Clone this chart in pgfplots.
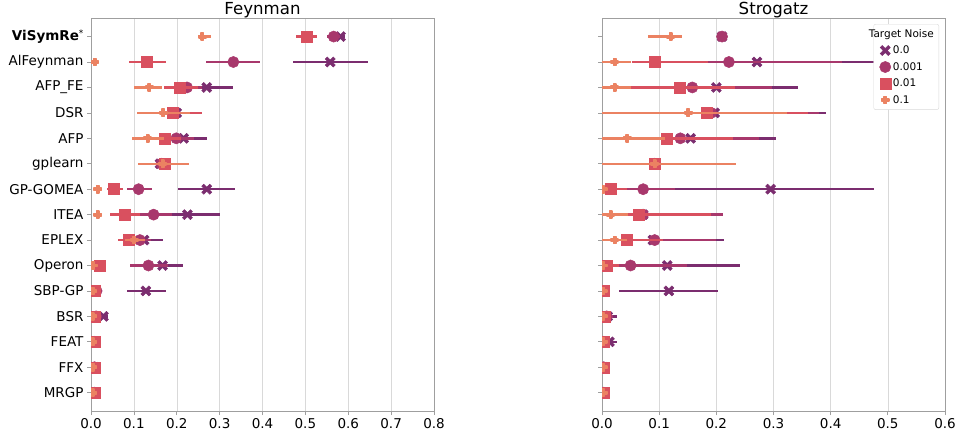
\documentclass[border=0pt]{standalone}
\usepackage{fontspec}
\setmainfont{DejaVu Sans}
\usepackage{pgfplots}
\usepackage{pgfplotstable}
\pgfplotsset{compat=1.18}

\definecolor{cA}{HTML}{7B2D6F}
\definecolor{cB}{HTML}{A8386C}
\definecolor{cC}{HTML}{D9505F}
\definecolor{cD}{HTML}{EB8262}

\pgfdeclareplotmark{fatX}{%
 \pgfpathmoveto{\pgfqpoint{0pt}{0.4\pgfplotmarksize}}%
 \pgfpathlineto{\pgfqpoint{0.6\pgfplotmarksize}{1\pgfplotmarksize}}%
 \pgfpathlineto{\pgfqpoint{1\pgfplotmarksize}{0.6\pgfplotmarksize}}%
 \pgfpathlineto{\pgfqpoint{0.4\pgfplotmarksize}{0pt}}%
 \pgfpathlineto{\pgfqpoint{1\pgfplotmarksize}{-0.6\pgfplotmarksize}}%
 \pgfpathlineto{\pgfqpoint{0.6\pgfplotmarksize}{-1\pgfplotmarksize}}%
 \pgfpathlineto{\pgfqpoint{0pt}{-0.4\pgfplotmarksize}}%
 \pgfpathlineto{\pgfqpoint{-0.6\pgfplotmarksize}{-1\pgfplotmarksize}}%
 \pgfpathlineto{\pgfqpoint{-1\pgfplotmarksize}{-0.6\pgfplotmarksize}}%
 \pgfpathlineto{\pgfqpoint{-0.4\pgfplotmarksize}{0pt}}%
 \pgfpathlineto{\pgfqpoint{-1\pgfplotmarksize}{0.6\pgfplotmarksize}}%
 \pgfpathlineto{\pgfqpoint{-0.6\pgfplotmarksize}{1\pgfplotmarksize}}%
 \pgfpathclose
 \pgfusepathqfillstroke
}
\pgfdeclareplotmark{fatP}{%
 \pgfpathmoveto{\pgfqpoint{0.33\pgfplotmarksize}{1\pgfplotmarksize}}%
 \pgfpathlineto{\pgfqpoint{0.33\pgfplotmarksize}{0.33\pgfplotmarksize}}%
 \pgfpathlineto{\pgfqpoint{1\pgfplotmarksize}{0.33\pgfplotmarksize}}%
 \pgfpathlineto{\pgfqpoint{1\pgfplotmarksize}{-0.33\pgfplotmarksize}}%
 \pgfpathlineto{\pgfqpoint{0.33\pgfplotmarksize}{-0.33\pgfplotmarksize}}%
 \pgfpathlineto{\pgfqpoint{0.33\pgfplotmarksize}{-1\pgfplotmarksize}}%
 \pgfpathlineto{\pgfqpoint{-0.33\pgfplotmarksize}{-1\pgfplotmarksize}}%
 \pgfpathlineto{\pgfqpoint{-0.33\pgfplotmarksize}{-0.33\pgfplotmarksize}}%
 \pgfpathlineto{\pgfqpoint{-1\pgfplotmarksize}{-0.33\pgfplotmarksize}}%
 \pgfpathlineto{\pgfqpoint{-1\pgfplotmarksize}{0.33\pgfplotmarksize}}%
 \pgfpathlineto{\pgfqpoint{-0.33\pgfplotmarksize}{0.33\pgfplotmarksize}}%
 \pgfpathlineto{\pgfqpoint{-0.33\pgfplotmarksize}{1\pgfplotmarksize}}%
 \pgfpathclose
 \pgfusepathqfillstroke
}

% ---------------- Feynman ----------------
\pgfplotstableread{
y x lo hi
0 0.582 0.550 0.593
1 0.558 0.471 0.646
2 0.270 0.230 0.332
3 0.200 0.170 0.230
4 0.216 0.170 0.271
5 0.161 0.120 0.200
6 0.270 0.204 0.335
7 0.225 0.160 0.300
8 0.124 0.090 0.169
9 0.167 0.120 0.214
10 0.128 0.083 0.174
11 0.029 0.018 0.040
12 0.008 0.004 0.012
13 0.008 0.004 0.012
14 0.008 0.004 0.012
}\FA
\pgfplotstableread{
y x lo hi
0 0.566 0.550 0.580
1 0.332 0.269 0.395
2 0.224 0.190 0.260
3 0.195 0.160 0.230
4 0.199 0.160 0.240
5 0.164 0.120 0.210
6 0.111 0.083 0.142
7 0.146 0.110 0.190
8 0.114 0.090 0.140
9 0.134 0.090 0.180
10 0.013 0.008 0.018
11 0.012 0.006 0.018
12 0.008 0.004 0.012
13 0.008 0.004 0.012
14 0.008 0.004 0.012
}\FB
\pgfplotstableread{
y x lo hi
0 0.504 0.479 0.526
1 0.130 0.089 0.175
2 0.208 0.170 0.250
3 0.191 0.150 0.260
4 0.171 0.130 0.210
5 0.171 0.130 0.210
6 0.052 0.038 0.074
7 0.079 0.044 0.114
8 0.087 0.064 0.110
9 0.021 0.012 0.030
10 0.008 0.003 0.012
11 0.009 0.004 0.014
12 0.008 0.004 0.012
13 0.008 0.004 0.012
14 0.008 0.004 0.012
}\FC
\pgfplotstableread{
y x lo hi
0 0.260 0.250 0.280
1 0.009 0.005 0.012
2 0.136 0.101 0.165
3 0.169 0.107 0.231
4 0.132 0.095 0.170
5 0.167 0.109 0.228
6 0.016 0.012 0.020
7 0.016 0.012 0.020
8 0.101 0.080 0.125
9 0.005 0.002 0.008
10 0.004 0.002 0.006
11 0.004 0.002 0.006
12 0.004 0.002 0.006
13 0.004 0.002 0.006
14 0.004 0.002 0.006
}\FD

% ---------------- Strogatz ----------------
\pgfplotstableread{
y x lo hi
0 0.210 0.205 0.215
1 0.271 0.150 0.506
2 0.200 0.120 0.342
3 0.197 0.100 0.391
4 0.155 0.090 0.304
5 0.092 0.050 0.130
6 0.295 0.128 0.476
7 0.072 0.030 0.212
8 0.089 0.050 0.214
9 0.114 0.020 0.241
10 0.117 0.030 0.203
11 0.010 0.000 0.026
12 0.013 0.002 0.026
13 0.003 0.000 0.006
14 0.003 0.000 0.006
}\SA
\pgfplotstableread{
y x lo hi
0 0.210 0.205 0.215
1 0.222 0.110 0.420
2 0.158 0.090 0.298
3 0.191 0.080 0.380
4 0.137 0.070 0.275
5 0.092 0.030 0.150
6 0.072 0.030 0.128
7 0.072 0.030 0.212
8 0.092 0.040 0.200
9 0.050 0.010 0.148
10 0.003 0.000 0.006
11 0.008 0.000 0.020
12 0.003 0.000 0.006
13 0.003 0.000 0.006
14 0.003 0.000 0.006
}\SB
\pgfplotstableread{
y x lo hi
1 0.093 0.053 0.186
2 0.136 0.050 0.233
3 0.184 0.050 0.360
4 0.114 0.040 0.230
5 0.092 0.020 0.160
6 0.015 0.004 0.043
7 0.064 0.020 0.190
8 0.044 0.020 0.107
9 0.009 0.002 0.030
10 0.003 0.000 0.006
11 0.004 0.000 0.008
12 0.003 0.000 0.006
13 0.003 0.000 0.006
14 0.003 0.000 0.006
}\SC
\pgfplotstableread{
y x lo hi
0 0.120 0.081 0.140
1 0.022 0.000 0.051
2 0.022 0.000 0.051
3 0.151 0.000 0.324
4 0.044 0.000 0.110
5 0.092 0.000 0.235
6 0.002 0.000 0.006
7 0.015 0.000 0.045
8 0.022 0.000 0.043
9 0.002 0.000 0.005
10 0.002 0.000 0.004
11 0.002 0.000 0.004
12 0.002 0.000 0.004
13 0.002 0.000 0.004
14 0.002 0.000 0.004
}\SD

\pgfplotsset{
  common/.style={
    width=343pt, height=393pt, scale only axis,
    xmin=0, ymin=-0.73, ymax=14.72, y dir=reverse,
    ytick={0,...,14},
    xmajorgrids, grid style={gray!30, line width=0.5pt},
    axis line style={gray!75, line width=0.7pt},
    tick style={gray!75, line width=0.7pt},
    tick align=outside, xtick pos=bottom, ytick pos=left,
    major tick length=4pt,
    xticklabel style={/pgf/number format/.cd, fixed, fixed zerofill, precision=1, assume math mode=true},
    tick label style={font=\fontsize{13.5}{16}\selectfont, text=black},
    clip marker paths=true,
    every axis title shift=0pt,
    title style={font=\fontsize{16.6}{20}\selectfont, at={(0.5,1)}, anchor=base, yshift=3.5pt},
  },
  ebar/.style={error bars/.cd, x dir=both, x explicit, error mark=none,
    error bar style={line width=2.4pt, color=#1}},
  sA/.style={only marks, mark=fatX, mark size=5pt, color=cA, mark options={fill=cA, draw=cA, line width=0.5pt}, ebar=cA},
  sB/.style={only marks, mark=*, mark size=5.6pt, color=cB, mark options={fill=cB, draw=cB, line width=0.5pt}, ebar=cB},
  sC/.style={only marks, mark=square*, mark size=5.5pt, color=cC, mark options={fill=cC, draw=cC, line width=0.5pt}, ebar=cC},
  sD/.style={only marks, mark=fatP, mark size=3.6pt, color=cD, mark options={fill=cD, draw=cD, line width=1.6pt, line join=round}, ebar=cD},
  table/tb/.style={x=x, y=y, x error plus expr=\thisrow{hi}-\thisrow{x}, x error minus expr=\thisrow{x}-\thisrow{lo}},
}

\begin{document}
\begin{tikzpicture}
\useasboundingbox (0,0) rectangle (957pt,437pt);
\begin{axis}[common, at={(91pt,26pt)}, anchor=south west,
  xmax=0.8, xtick={0,0.1,0.2,0.3,0.4,0.5,0.6,0.7,0.8},
  yticklabels={\textbf{ViSymRe}\raisebox{0.55ex}{\fontsize{9}{10}\selectfont *}, AlFeynman, AFP\_FE, DSR, AFP, gplearn, GP-GOMEA, ITEA, EPLEX, Operon, SBP-GP, BSR, FEAT, FFX, MRGP},
  title={Feynman}]
\addplot[sA] table[tb] {\FA};
\addplot[sB] table[tb] {\FB};
\addplot[sC] table[tb] {\FC};
\addplot[sD] table[tb] {\FD};
\end{axis}
\begin{axis}[common, at={(602pt,26pt)}, anchor=south west,
  xmax=0.6, xtick={0,0.1,0.2,0.3,0.4,0.5,0.6},
  yticklabels={},
  title={Strogatz},
  legend style={at={(1,1)}, anchor=north east, xshift=-6pt, yshift=-6pt,
    draw=gray!30, rounded corners=2pt, font=\fontsize{10.5}{12}\selectfont,
    row sep=3.2pt, inner sep=3pt},
  legend cell align=left,
  legend entries={\hspace{-24pt}Target Noise, 0.0, 0.001, 0.01, 0.1}]
\addlegendimage{empty legend}
\addplot[sA] table[tb] {\SA};
\addplot[sB] table[tb] {\SB};
\addplot[sC] table[tb] {\SC};
\addplot[sD] table[tb] {\SD};
\end{axis}
\end{tikzpicture}
\end{document}
